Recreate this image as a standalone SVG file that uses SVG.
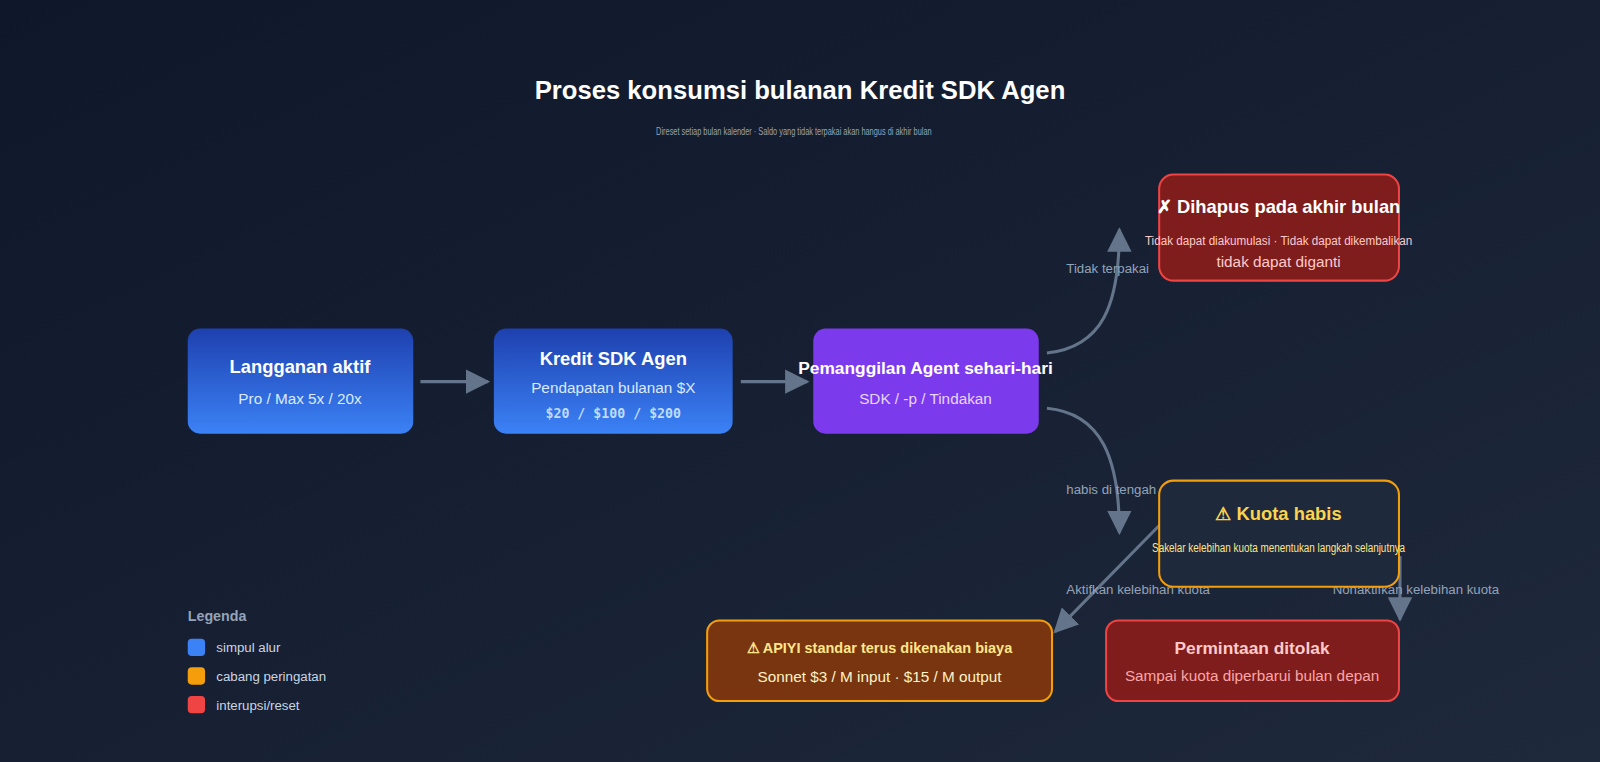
<svg xmlns="http://www.w3.org/2000/svg" width="1600" height="762" viewBox="0 0 1600 762">
<defs>
<linearGradient id="bg" x1="0" y1="0" x2="1" y2="1"><stop offset="0" stop-color="#0f172a"/><stop offset="1" stop-color="#1e293b"/></linearGradient>
<linearGradient id="blue" x1="0" y1="0" x2="0" y2="1"><stop offset="0" stop-color="#1e40af"/><stop offset="1" stop-color="#3b82f6"/></linearGradient>
<marker id="a2" viewBox="0 0 10 10" refX="9" refY="5" markerWidth="8" markerHeight="8" orient="auto"><path d="M0,0 L10,5 L0,10 z" fill="#64748b"/></marker>
<style>
text{font-family:"Liberation Sans",Arial,sans-serif}
.t{font-weight:bold;font-size:18px;fill:#fff;text-anchor:middle}
.s{font-size:15px;text-anchor:middle}
.c{fill:none;stroke:#64748b;stroke-width:3}
.lb{font-size:13px;fill:#94a3b8}
.lg{font-size:13px;fill:#cbd5e1}
</style>
</defs>
<rect width="1600" height="762" fill="url(#bg)"/>
<g transform="scale(1.0204)">
<text x="784" y="97" class="t" style="font-size:26px" textLength="520" lengthAdjust="spacingAndGlyphs">Proses konsumsi bulanan Kredit SDK Agen</text>
<text x="778" y="132" font-size="11" fill="#94a3b8" text-anchor="middle" textLength="270" lengthAdjust="spacingAndGlyphs">Direset setiap bulan kalender · Saldo yang tidak terpakai akan hangus di akhir bulan</text>
<g id="connectors">
<path class="c" marker-end="url(#a2)" d="M412,374 L478,374"/>
<path class="c" marker-end="url(#a2)" d="M726,374 L791,374"/>
<path class="c" marker-end="url(#a2)" d="M1026,346 C1080,340 1097,300 1097,225"/>
<path class="c" marker-end="url(#a2)" d="M1026,400 C1080,405 1097,450 1097,522"/>
<path class="c" marker-end="url(#a2)" d="M1138,513 L1034,619"/>
<path class="c" marker-end="url(#a2)" d="M1372,545 L1372,607"/>
<text x="1045" y="268" class="lb">Tidak terpakai</text>
<text x="1045" y="484" class="lb">habis di tengah</text>
<text x="1045" y="582" class="lb">Aktifkan kelebihan kuota</text>
<text x="1306" y="582" class="lb">Nonaktifkan kelebihan kuota</text>
</g>
<g id="n1"><rect x="184" y="322" width="221" height="103" rx="12" fill="url(#blue)"/>
<text x="294" y="366" class="t">Langganan aktif</text><text x="294" y="396" class="s" fill="#dbeafe">Pro / Max 5x / 20x</text></g>
<g id="n2"><rect x="484" y="322" width="234" height="103" rx="12" fill="url(#blue)"/>
<text x="601" y="358" class="t">Kredit SDK Agen</text><text x="601" y="385" class="s" fill="#dbeafe">Pendapatan bulanan $X</text>
<text x="601" y="410" style="font-family:'DejaVu Sans Mono',monospace" font-size="13" font-weight="bold" fill="#bfdbfe" text-anchor="middle">$20 / $100 / $200</text></g>
<g id="n3"><rect x="797" y="322" width="221" height="103" rx="12" fill="#7c3aed"/>
<text x="907" y="367" class="t" style="font-size:17px">Pemanggilan Agent sehari-hari</text><text x="907" y="396" class="s" fill="#e9d5ff">SDK / -p / Tindakan</text></g>
<g id="n4"><rect x="1136" y="171" width="235" height="104" rx="14" fill="#7f1d1d" stroke="#ef4444" stroke-width="2"/>
<text x="1253" y="209" class="t">✗ Dihapus pada akhir bulan</text>
<text x="1253" y="240" font-size="13" fill="#fecaca" text-anchor="middle" textLength="262" lengthAdjust="spacingAndGlyphs">Tidak dapat diakumulasi · Tidak dapat dikembalikan</text>
<text x="1253" y="262" class="s" fill="#fecaca">tidak dapat diganti</text></g>
<g id="n5"><rect x="1136" y="471" width="235" height="104" rx="14" fill="#1e293b" stroke="#f59e0b" stroke-width="2"/>
<text x="1253" y="510" class="t" style="fill:#fcd34d">⚠ Kuota habis</text>
<text x="1253" y="541" font-size="13" fill="#fde68a" text-anchor="middle" textLength="248" lengthAdjust="spacingAndGlyphs">Sakelar kelebihan kuota menentukan langkah selanjutnya</text></g>
<g id="n6"><rect x="693" y="608" width="338" height="79" rx="12" fill="#78350f" stroke="#f59e0b" stroke-width="2"/>
<text x="862" y="640" font-size="15" font-weight="bold" fill="#fde68a" text-anchor="middle" textLength="260" lengthAdjust="spacingAndGlyphs">⚠ APIYI standar terus dikenakan biaya</text>
<text x="862" y="668" class="s" fill="#fef3c7">Sonnet $3 / M input · $15 / M output</text></g>
<g id="n7"><rect x="1084" y="608" width="287" height="79" rx="12" fill="#7f1d1d" stroke="#ef4444" stroke-width="2"/>
<text x="1227" y="641" class="t" style="font-size:17px;fill:#fecaca">Permintaan ditolak</text>
<text x="1227" y="667" class="s" fill="#fca5a5">Sampai kuota diperbarui bulan depan</text></g>
<g id="legend">
<text x="184" y="609" font-size="14" font-weight="bold" fill="#94a3b8">Legenda</text>
<rect x="184" y="626" width="17" height="17" rx="4" fill="#3b82f6"/><text x="212" y="639" class="lg">simpul alur</text>
<rect x="184" y="654" width="17" height="17" rx="4" fill="#f59e0b"/><text x="212" y="667" class="lg">cabang peringatan</text>
<rect x="184" y="682" width="17" height="17" rx="4" fill="#ef4444"/><text x="212" y="696" class="lg">interupsi/reset</text>
</g>
</g>
</svg>
